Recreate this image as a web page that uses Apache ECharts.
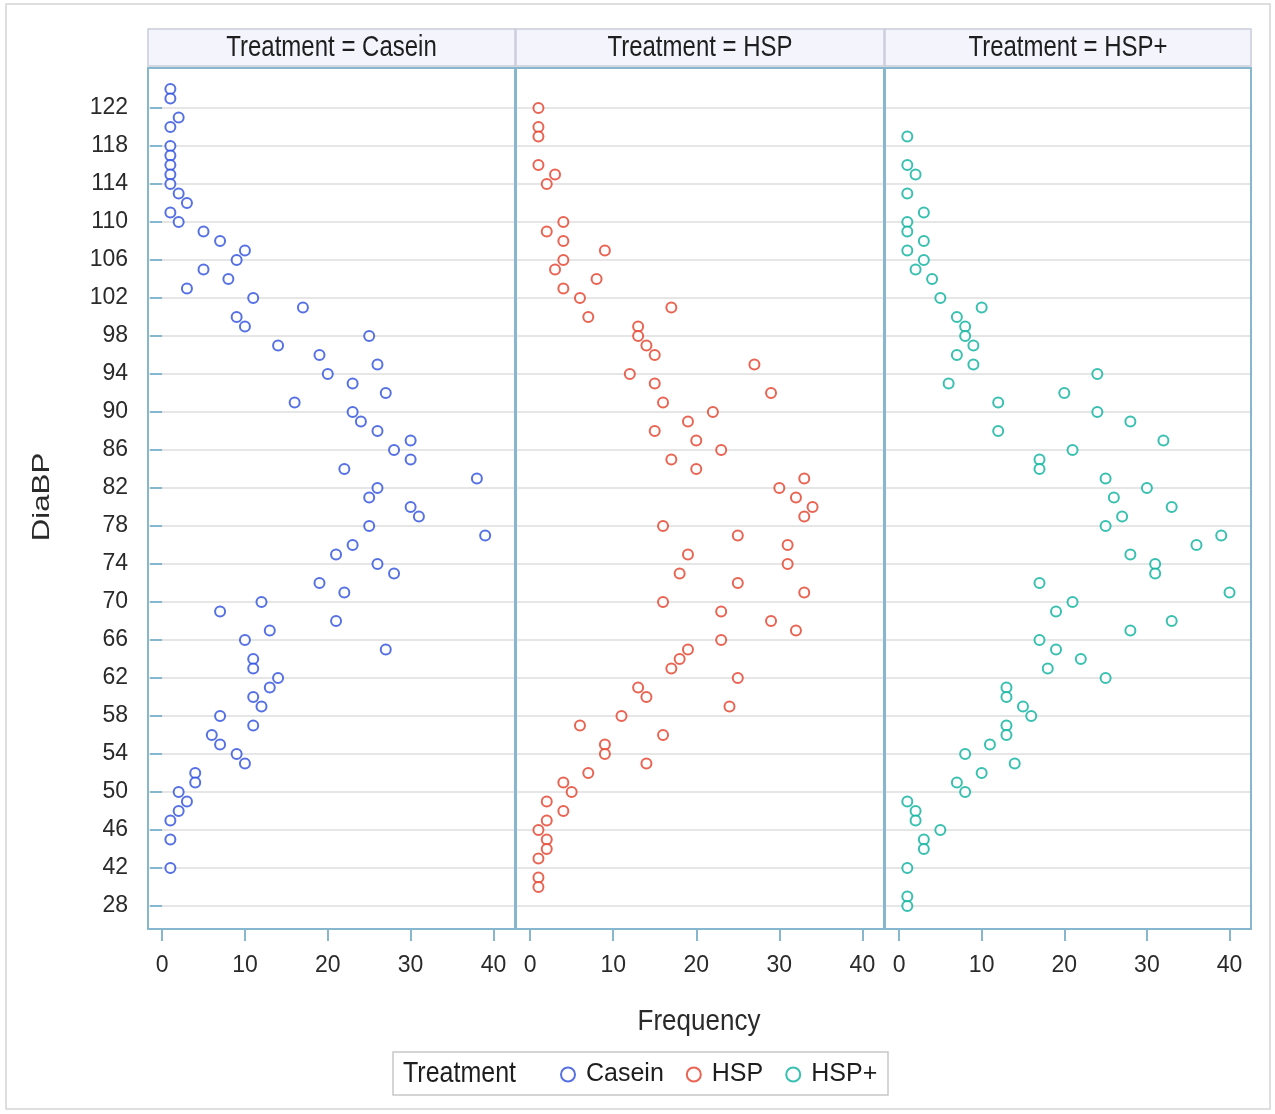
<!DOCTYPE html>
<html>
<head>
<meta charset="utf-8">
<script src="https://cdn.jsdelivr.net/npm/echarts@6/dist/echarts.min.js"></script>
<style>
html,body{margin:0;padding:0;background:#fff;}
#chart{width:1275px;height:1114px;}
</style>
</head>
<body>
<div id="chart"></div>
<script>
// ---- data (DiaBP value, Frequency) ----
const treatments = ['Casein', 'HSP', 'HSP+'];
const colors = ['#2C4DDD', '#E43D27', '#08B09C'];

// DiaBP categories present on the axis (bottom to top); the row between 28 and 40 is unlabeled in the source
const diaBPCategories = ['28', '30', '40', '41', '42', '43', '44', '45', '46', '47', '48', '49', '50', '51', '52', '53', '54', '55', '56', '57', '58', '59', '60', '61', '62', '63', '64', '65', '66', '67', '68', '69', '70', '71', '72', '73', '74', '75', '76', '77', '78', '79', '80', '81', '82', '83', '84', '85', '86', '87', '88', '89', '90', '91', '92', '93', '94', '95', '96', '97', '98', '99', '100', '101', '102', '103', '104', '105', '106', '107', '108', '109', '110', '111', '112', '113', '114', '115', '116', '117', '118', '119', '120', '121', '122', '123', '124'];
const yTickLabels = ['28', '42', '46', '50', '54', '58', '62', '66', '70', '74', '78', '82', '86', '90', '94', '98', '102', '106', '110', '114', '118', '122'];
const xTickValues = [0, 10, 20, 30, 40];

const caseinPoints = [
  [124,1],[123,1],[121,2],[120,1],[118,1],[117,1],[116,1],[115,1],[114,1],[113,2],[112,3],[111,1],[110,2],
  [109,5],[108,7],[107,10],[106,9],[105,5],[104,8],[103,3],[102,11],[101,17],[100,9],[99,10],[98,25],[97,14],
  [96,19],[95,26],[94,20],[93,23],[92,27],[91,16],[90,23],[89,24],[88,26],[87,30],[86,28],[85,30],[84,22],
  [83,38],[82,26],[81,25],[80,30],[79,31],[78,25],[77,39],[76,23],[75,21],[74,26],[73,28],[72,19],[71,22],
  [70,12],[69,7],[68,21],[67,13],[66,10],[65,27],[64,11],[63,11],[62,14],[61,13],[60,11],[59,12],[58,7],
  [57,11],[56,6],[55,7],[54,9],[53,10],[52,4],[51,4],[50,2],[49,3],[48,2],[47,1],[45,1],[42,1]
];
const hspPoints = [
  [122,1],[120,1],[119,1],[116,1],[115,3],[114,2],[110,4],[109,2],[108,4],[107,9],[106,4],[105,3],[104,8],
  [103,4],[102,6],[101,17],[100,7],[99,13],[98,13],[97,14],[96,15],[95,27],[94,12],[93,15],[92,29],[91,16],
  [90,22],[89,19],[88,15],[87,20],[86,23],[85,17],[84,20],[83,33],[82,30],[81,32],[80,34],[79,33],[78,16],
  [77,25],[76,31],[75,19],[74,31],[73,18],[72,25],[71,33],[70,16],[69,23],[68,29],[67,32],[66,23],[65,19],
  [64,18],[63,17],[62,25],[61,13],[60,14],[59,24],[58,11],[57,6],[56,16],[55,9],[54,9],[53,14],[52,7],
  [51,4],[50,5],[49,2],[48,4],[47,2],[46,1],[45,2],[44,2],[43,1],[41,1],[40,1]
];
const hspPlusPoints = [
  [119,1],[116,1],[115,2],[113,1],[111,3],[110,1],[109,1],[108,3],[107,1],[106,3],[105,2],[104,4],[102,5],
  [101,10],[100,7],[99,8],[98,8],[97,9],[96,7],[95,9],[94,24],[93,6],[92,20],[91,12],[90,24],[89,28],[88,12],
  [87,32],[86,21],[85,17],[84,17],[83,25],[82,30],[81,26],[80,33],[79,27],[78,25],[77,39],[76,36],[75,28],
  [74,31],[73,31],[72,17],[71,40],[70,21],[69,19],[68,33],[67,28],[66,17],[65,19],[64,22],[63,18],[62,25],
  [61,13],[60,13],[59,15],[58,16],[57,13],[56,13],[55,11],[54,8],[53,14],[52,10],[51,7],[50,8],[49,1],
  [48,2],[47,2],[46,5],[45,3],[44,3],[42,1],[30,1],[28,1]
];
const allPoints = [caseinPoints, hspPoints, hspPlusPoints];

// ---- layout ----
const panelLeft = [148, 516, 885];
const panelWidth = [367, 368, 366];
const plotTop = 70, plotHeight = 855;          // category rows span
const frameTop = 68, frameBottom = 929;          // panel frame
const headerTop = 29, headerBottom = 66;
const frameColor = '#86B7CF';
const FONT = "'Liberation Sans', Arial, sans-serif";

const yData = ['padB2', 'padB1'].concat(diaBPCategories, ['padT1', 'padT2']);
const showTick = (idx, val) => yTickLabels.indexOf(val) >= 0;

const grids = [], xAxes = [], yAxes = [], series = [], graphics = [];
for (let i = 0; i < 3; i++) {
  grids.push({left: panelLeft[i], top: plotTop, width: panelWidth[i], height: plotHeight, show: false});
  xAxes.push({
    type: 'value', gridIndex: i, min: -1.7, max: 42.6, offset: 4,
    axisLine: {show: false},
    axisTick: {show: true, length: 12, lineStyle: {color: frameColor, width: 2}, customValues: xTickValues},
    axisLabel: {show: true, fontSize: 23, color: '#2a2a2a', fontFamily: FONT, margin: 25, customValues: xTickValues},
    splitLine: {show: false}
  });
  yAxes.push({
    type: 'category', gridIndex: i, data: yData, boundaryGap: false,
    axisLine: {show: false},
    axisTick: {show: i === 0, length: 12, interval: showTick, lineStyle: {color: frameColor, width: 2}},
    axisLabel: {show: i === 0, interval: showTick, fontSize: 23, color: '#2a2a2a', fontFamily: FONT, margin: 20},
    splitLine: {show: true, interval: showTick, lineStyle: {color: '#E6E6E6', width: 2}}
  });
  series.push({
    name: treatments[i], type: 'scatter', xAxisIndex: i, yAxisIndex: i,
    symbol: 'emptyCircle', symbolSize: 10,
    itemStyle: {color: colors[i], borderColor: colors[i], borderWidth: 2.4},
    data: allPoints[i].map(p => [p[1], String(p[0])]),
    z: 5
  });
  // panel frame
  graphics.push({
    type: 'rect', silent: true, z: 10,
    shape: {x: panelLeft[i], y: frameTop, width: panelWidth[i], height: frameBottom - frameTop},
    style: {fill: null, stroke: frameColor, lineWidth: 2}
  });
  // header strip
  graphics.push({
    type: 'rect', silent: true, z: 9,
    shape: {x: panelLeft[i], y: headerTop, width: panelWidth[i], height: headerBottom - headerTop},
    style: {fill: '#F4F4FC', stroke: '#C9CCD8', lineWidth: 1.5}
  });
  graphics.push({
    type: 'text', silent: true, z: 11,
    x: panelLeft[i] + panelWidth[i] / 2, y: (headerTop + headerBottom) / 2 + 1, scaleY: 1.2,
    style: {text: 'Treatment = ' + treatments[i], fill: '#1e1e1e', font: '24px ' + FONT, align: 'center', verticalAlign: 'middle'}
  });
}

// outer frame
graphics.push({type: 'rect', silent: true, z: 1, shape: {x: 6, y: 4, width: 1264, height: 1105}, style: {fill: null, stroke: '#D5D5D5', lineWidth: 1.5}});
// axis titles
graphics.push({type: 'text', silent: true, x: 42, y: 497, rotation: Math.PI / 2, scaleX: 1.3,
  style: {text: 'DiaBP', fill: '#2a2a2a', font: '24px ' + FONT, align: 'center', verticalAlign: 'middle'}});
graphics.push({type: 'text', silent: true, x: 699, y: 1022, scaleY: 1.15,
  style: {text: 'Frequency', fill: '#2a2a2a', font: '26px ' + FONT, align: 'center', verticalAlign: 'middle'}});
// legend box and title
graphics.push({type: 'rect', silent: true, shape: {x: 393, y: 1052, width: 495, height: 43}, style: {fill: '#fff', stroke: '#C8C8C8', lineWidth: 1.5}});
graphics.push({type: 'text', silent: true, x: 403, y: 1074, scaleY: 1.15,
  style: {text: 'Treatment', fill: '#1e1e1e', font: '25px ' + FONT, align: 'left', verticalAlign: 'middle'}});

const chart = echarts.init(document.getElementById('chart'), null, {renderer: 'canvas'});
chart.setOption({
  animation: false,
  backgroundColor: '#fff',
  grid: grids,
  xAxis: xAxes,
  yAxis: yAxes,
  series: series,
  legend: {
    data: treatments, left: 555, top: 1057, itemGap: 22, itemWidth: 14, itemHeight: 14,
    icon: 'emptyCircle',
    itemStyle: {borderWidth: 2},
    textStyle: {fontSize: 25, color: '#1e1e1e', fontFamily: FONT, padding: [0, 0, 0, 6]},
    z: 20
  },
  graphic: graphics
});
</script>
</body>
</html>
